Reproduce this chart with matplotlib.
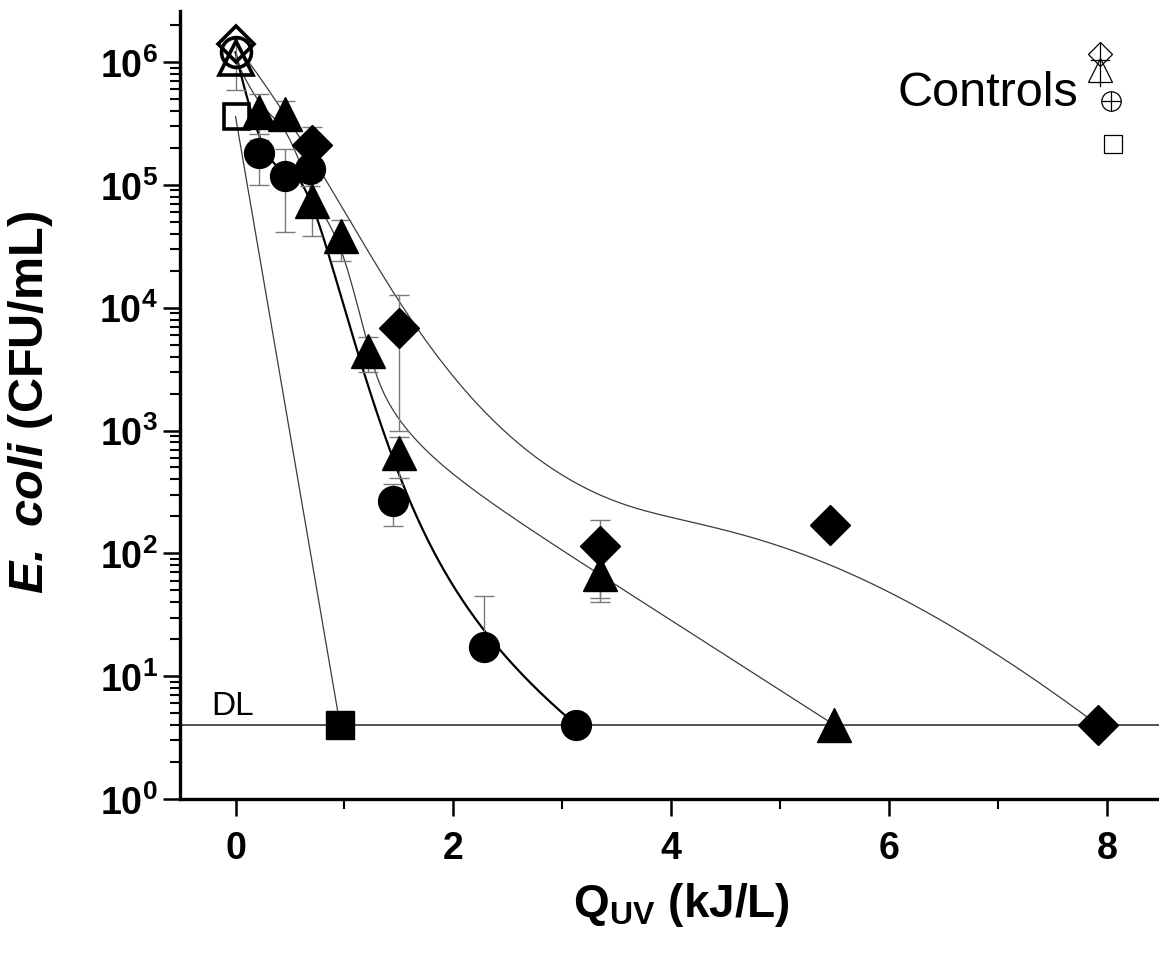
import numpy as np
import matplotlib
matplotlib.use("Agg")
import matplotlib.pyplot as plt
from matplotlib.ticker import FixedLocator, LogLocator, FuncFormatter, NullFormatter

plt.rcParams['font.family'] = ['Liberation Sans', 'DejaVu Sans']
plt.rcParams['mathtext.fontset'] = 'custom'
plt.rcParams['mathtext.rm'] = 'Liberation Sans'
plt.rcParams['mathtext.bf'] = 'Liberation Sans:bold'
plt.rcParams['mathtext.it'] = 'Liberation Sans:italic'
plt.rcParams['mathtext.bfit'] = 'Liberation Sans:italic:bold'

# detection limit (CFU/mL)
DL = 4.0

# controls at Q = 0
ctrl_sq, ctrl_circ, ctrl_tri, ctrl_dia = 3.6e5, 1.2e6, 1.07e6, 1.4e6
ctrl_err_tri = 4.8e5

# squares
dose_sq = [0.96]
cfu_sq = [4.0]

# circles
dose_circ = [0.22, 0.45, 0.68, 1.45, 2.28, 3.13]
cfu_circ = [1.8e5, 1.18e5, 1.35e5, 268, 17.3, 4.0]
err_circ = [8e4, 7.7e4, 3.7e4, 100, 28, 0]

# triangles
dose_tri = [0.22, 0.45, 0.70, 0.97, 1.22, 1.50, 3.35, 5.50]
cfu_tri = [3.9e5, 3.8e5, 7.4e4, 3.8e4, 4.4e3, 650, 68, 4.0]
err_tri = [1.6e5, 1.0e5, 3.6e4, 1.4e4, 1.4e3, 240, 28, 0]

# diamonds
dose_dia = [0.70, 1.50, 3.35, 5.46, 7.92]
cfu_dia = [2.1e5, 6.8e3, 115, 170, 4.0]
err_dia = [8.6e4, 5.8e3, 72, 0, 0]


def bspline(xs, ys, k=3, n=400):
    # clamped B-spline with the data points as control points (log y)
    P = np.column_stack([xs, np.log10(ys)])
    m = len(P)
    k = min(k, m - 1)
    t = np.concatenate([np.zeros(k), np.linspace(0, 1, m - k + 1), np.ones(k)])
    u = np.linspace(0, 1, n)
    N = np.zeros((n, len(t) - 1))
    for i in range(len(t) - 1):
        N[:, i] = (t[i] <= u) & (u < t[i + 1])
    last = max(i for i in range(len(t) - 1) if t[i] < t[i + 1])
    N[u >= 1, last] = 1
    for d in range(1, k + 1):
        M = np.zeros((n, len(t) - 1 - d))
        for i in range(len(t) - 1 - d):
            a = t[i + d] - t[i]
            b = t[i + d + 1] - t[i + 1]
            if a > 0:
                M[:, i] += (u - t[i]) / a * N[:, i]
            if b > 0:
                M[:, i] += (t[i + d + 1] - u) / b * N[:, i + 1]
        N = M
    c = N @ P
    return c[:, 0], 10 ** c[:, 1]


def lower(vals, errs):
    return [e if v - e > 0 else 0 for v, e in zip(vals, errs)]


fig = plt.figure(figsize=(11.59, 9.54), dpi=100)
ax = fig.add_axes([0.1553, 0.1614, 0.8447, 0.8260])
ax.set_yscale('log')
ax.set_xlim(-0.51, 8.48)
ax.set_ylim(1, 2.6e6)

thin = '#3c3c3c'
ebc = '#7a7a7a'

# fit curves
x, y = bspline([0] + dose_sq, [ctrl_sq] + cfu_sq)
ax.plot(x, y, color=thin, lw=0.9, zorder=2)
x, y = bspline([0] + dose_circ, [ctrl_circ] + cfu_circ)
ax.plot(x, y, color='black', lw=1.6, zorder=2)
x, y = bspline([0] + dose_tri, [ctrl_tri] + cfu_tri)
ax.plot(x, y, color=thin, lw=0.9, zorder=2)
x, y = bspline([0] + dose_dia, [ctrl_dia] + cfu_dia)
ax.plot(x, y, color=thin, lw=0.9, zorder=2)

ax.axhline(DL, color='#333333', lw=1.2, zorder=1)

ekw = dict(fmt='none', ecolor=ebc, elinewidth=1.0, capsize=7, capthick=1.0, zorder=3)
ax.errorbar(dose_circ, cfu_circ, yerr=[lower(cfu_circ, err_circ), err_circ], **ekw)
ax.errorbar(dose_tri, cfu_tri, yerr=[lower(cfu_tri, err_tri), err_tri], **ekw)
ax.errorbar(dose_dia, cfu_dia, yerr=[lower(cfu_dia, err_dia), err_dia], **ekw)
ax.errorbar([0], [ctrl_tri], yerr=[ctrl_err_tri], **ekw)

# data markers
ax.plot(dose_sq, cfu_sq, 's', ms=20, color='black', zorder=4)
ax.plot(dose_circ, cfu_circ, 'o', ms=21.5, color='black', zorder=4)
ax.plot(dose_tri, cfu_tri, '^', ms=25, color='black', zorder=4)
ax.plot(dose_dia, cfu_dia, 'D', ms=20, color='black', zorder=4)

# open control markers
okw = dict(mfc='none', mec='black', mew=2.6, zorder=5)
ax.plot([0], [ctrl_circ], 'o', ms=21.5, **okw)
ax.plot([0], [ctrl_tri], '^', ms=25, **okw)
ax.plot([0], [ctrl_sq], 's', ms=18, **okw)
ax.plot([0], [ctrl_dia], 'D', ms=18, **okw)

# "Controls" key
tr = ax.transAxes
ax.text(0.825, 0.896, 'Controls', transform=tr, fontsize=35, ha='center', va='center')
kkw = dict(transform=tr, mfc='none', mec='black', mew=0.9, clip_on=False)
ax.plot([0.940], [0.945], 'D', ms=12.5, **kkw)
ax.plot([0.940], [0.925], '^', ms=17, **kkw)
ax.plot([0.951], [0.886], 'o', ms=14, **kkw)
ax.plot([0.953], [0.831], 's', ms=13, **kkw)
ax.plot([0.940, 0.940], [0.960, 0.905], color='black', lw=0.9, transform=tr)
ax.plot([0.931, 0.949], [0.938, 0.938], color='black', lw=0.9, transform=tr)
ax.plot([0.951], [0.886], '+', ms=14, mew=0.9, color='black', transform=tr)

ax.text(-0.22, 4.9, 'DL', fontsize=24, ha='left', va='baseline')

# axes styling
for s in ('top', 'right'):
    ax.spines[s].set_visible(False)
for s in ('left', 'bottom'):
    ax.spines[s].set_linewidth(2.4)

ax.xaxis.set_major_locator(FixedLocator([0, 2, 4, 6, 8]))
ax.xaxis.set_minor_locator(FixedLocator([1, 3, 5, 7]))
ax.yaxis.set_major_locator(LogLocator(base=10, numticks=10))
ax.yaxis.set_minor_locator(LogLocator(base=10, subs=np.arange(2, 10), numticks=20))
ax.yaxis.set_minor_formatter(NullFormatter())
ax.yaxis.set_major_formatter(FuncFormatter(lambda v, p: r'$\mathbf{10^{%d}}$' % round(np.log10(v))))

ax.tick_params(which='major', direction='out', length=12, width=1.8)
ax.tick_params(which='minor', direction='out', length=7, width=1.5)
ax.tick_params(axis='y', labelsize=27, pad=4)
ax.tick_params(axis='x', labelsize=27, pad=10)
for lab in ax.get_xticklabels():
    lab.set_family(['Liberation Sans Narrow', 'Liberation Sans'])
    lab.set_fontweight('bold')

ax.set_xlabel(r'$\mathbf{Q}_{\mathbf{UV}}$ (kJ/L)', fontsize=33, fontweight='bold')
ax.xaxis.set_label_coords(0.512, -0.103)
ax.set_ylabel(r'$\mathbfit{E.\ coli}$ (CFU/mL)', fontsize=35, fontweight='bold')
ax.yaxis.set_label_coords(-0.128, 0.505)

fig.savefig('out.png', dpi=100)
